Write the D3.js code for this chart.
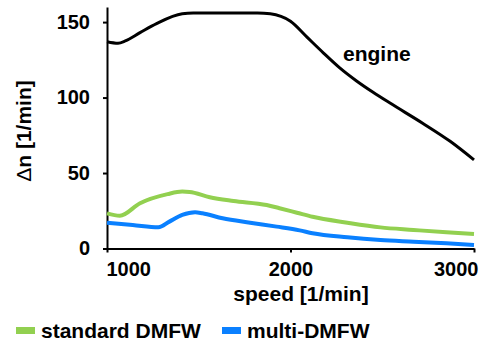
<!DOCTYPE html>
<html>
<head>
<meta charset="utf-8">
<script src="https://cdn.jsdelivr.net/npm/d3@7"></script>
<style>
  html, body { margin: 0; padding: 0; background: #fff; }
  svg { display: block; font-family: "Liberation Sans", Arial, sans-serif; font-weight: bold; }
</style>
</head>
<body>
<svg id="chart" width="486" height="343"></svg>
<script>
// Speed deviation Δn over engine speed
const engineSpeed = [1000, 1060, 1100, 1180, 1270, 1410, 1470, 1600, 1820, 1890, 2000, 2090, 2180, 2270, 2360, 2450, 2540, 2720, 2870, 3000];
const engineDn    = [137, 136, 137.5, 143, 149, 155.5, 156, 156, 156, 155.5, 150.5, 140, 129.5, 119.5, 111, 103.5, 96.5, 83, 71, 58.7];

const standardSpeed = [1000, 1070, 1180, 1330, 1410, 1450, 1560, 1690, 1870, 1940, 2035, 2120, 2310, 2490, 2670, 2850, 3000];
const standardDn    = [23.3, 21.7, 30, 36, 37.7, 37.5, 34, 31.5, 28.8, 26.7, 23.7, 21, 17.1, 14, 12.3, 10.7, 9.6];

const multiSpeed = [1000, 1140, 1280, 1340, 1410, 1480, 1520, 1630, 1780, 1925, 2050, 2120, 2310, 2490, 2670, 2850, 3000];
const multiDn    = [17.1, 15.6, 14, 17.8, 22.2, 24, 23.3, 20, 17.1, 14.5, 12, 10.1, 7.4, 5.6, 4.5, 3.4, 2.3];

const xTicks = [1000, 2000, 3000];
const yTicks = [0, 50, 100, 150];

const seriesNames  = ["engine", "standard DMFW", "multi-DMFW"];
const seriesColors = ["#000000", "#92D050", "#0A80FF"];
const seriesWidths = [3, 4, 4];

const svg = d3.select("#chart");
const x = d3.scaleLinear().domain([1000, 3000]).range([107, 474]);
const y = d3.scaleLinear().domain([0, 160]).range([248.5, 7]);

// axes
const yAxis = svg.append("g")
  .attr("transform", `translate(${x.range()[0]},0)`)
  .call(d3.axisLeft(y).tickValues(yTicks).tickFormat(d3.format("d"))
    .tickSize(4).tickPadding(13).tickSizeOuter(0));
const xAxis = svg.append("g")
  .attr("transform", `translate(0,${y(0)})`)
  .call(d3.axisBottom(x).tickValues(xTicks).tickFormat(d3.format("d"))
    .tickSize(4).tickPadding(9).tickSizeOuter(0));

[xAxis, yAxis].forEach(a => {
  a.select(".domain").attr("stroke", "#000").attr("stroke-width", 2);
  a.selectAll(".tick line").attr("stroke", "#000").attr("stroke-width", 2);
  a.selectAll(".tick text")
    .attr("fill", "#000")
    .style("font-size", "20px")
    .style("font-family", '"Liberation Sans", Arial, sans-serif')
    .style("font-weight", "bold");
});
// end labels kept inside the axis span
xAxis.selectAll(".tick text")
  .attr("text-anchor", (d, i) => i === 0 ? "start" : (i === xTicks.length - 1 ? "end" : "middle"))
  .attr("dx", (d, i) => i === 0 ? -1 : (i === xTicks.length - 1 ? 4 : 0));

// series lines
const line = d3.line()
  .x(d => x(d[0]))
  .y(d => y(d[1]))
  .curve(d3.curveMonotoneX);

const seriesData = [
  d3.zip(engineSpeed, engineDn),
  d3.zip(standardSpeed, standardDn),
  d3.zip(multiSpeed, multiDn)
];

// draw colored series first, engine on top
[2, 1, 0].forEach(i => {
  svg.append("path")
    .datum(seriesData[i])
    .attr("fill", "none")
    .attr("stroke", seriesColors[i])
    .attr("stroke-width", seriesWidths[i])
    .attr("stroke-linejoin", "round")
    .attr("d", line);
});

// inline label for engine curve
svg.append("text")
  .attr("x", 343).attr("y", 61)
  .style("font-size", "21px")
  .text(seriesNames[0]);

// axis titles
svg.append("text")
  .attr("x", 301).attr("y", 301)
  .attr("text-anchor", "middle")
  .style("font-size", "21px")
  .text("speed [1/min]");

const yTitle = svg.append("text")
  .attr("transform", "translate(31,131) rotate(-90)")
  .attr("text-anchor", "middle")
  .style("font-size", "21px");
yTitle.append("tspan").style("font-weight", "normal").text("Δ");
yTitle.append("tspan").text("n [1/min]");

// legend
const legendX = [16, 222];
[1, 2].forEach((s, k) => {
  const g = svg.append("g").attr("transform", `translate(${legendX[k]},0)`);
  g.append("rect")
    .attr("x", 0).attr("y", 327)
    .attr("width", 19).attr("height", 7)
    .attr("fill", seriesColors[s]);
  g.append("text")
    .attr("x", 25).attr("y", 338)
    .style("font-size", "21px")
    .text(seriesNames[s]);
});
</script>
</body>
</html>
